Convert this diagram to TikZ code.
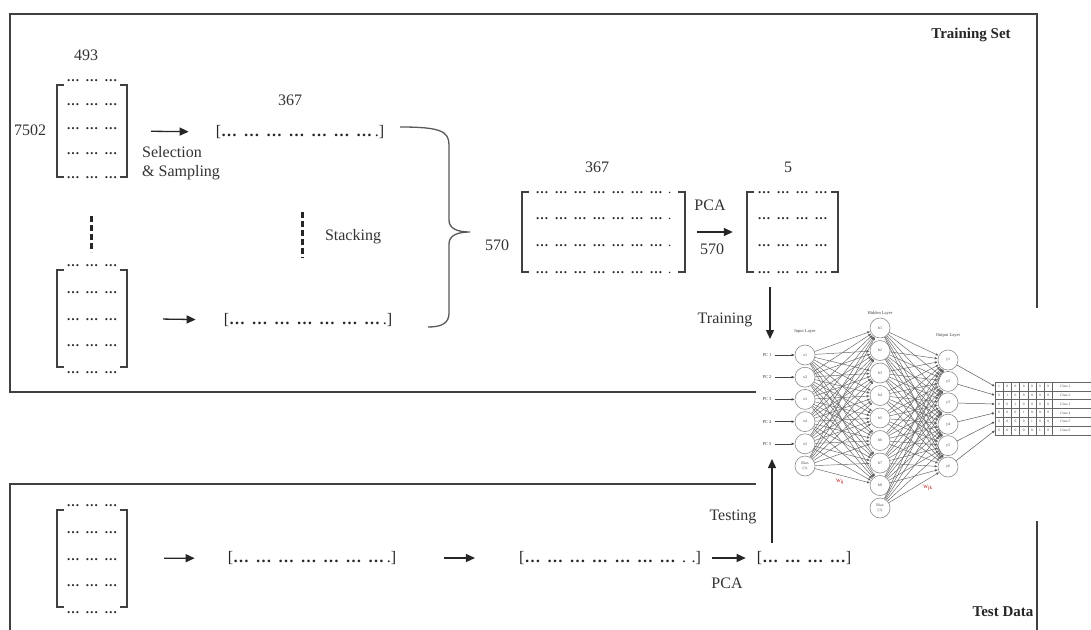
\documentclass[tikz,border=0pt]{standalone}
\usepackage{fontspec}
\setmainfont{Liberation Serif}
\usetikzlibrary{arrows.meta}
\newcommand{\dd}{{\bfseries …}}
\newcommand{\dg}{\dd\hspace{6pt}}
\newcommand{\vg}{\dd\hspace{6.5pt}}
\newcommand{\matbrk}[1]{%
  \draw[brk] ([xshift=7pt]#1.north west) -- (#1.north west) -- (#1.south west) -- ([xshift=7pt]#1.south west);
  \draw[brk] ([xshift=-7pt]#1.north east) -- (#1.north east) -- (#1.south east) -- ([xshift=-7pt]#1.south east);}
\begin{document}
\begin{tikzpicture}[x=1pt,y=-1pt,
  lbl/.style={font=\fontsize{16}{19}\selectfont, text=black!80, inner sep=0pt},
  bold/.style={font=\fontsize{15}{18}\selectfont\bfseries, text=black!85, inner sep=0pt},
  dotrow/.style={font=\fontsize{13}{15}\selectfont, inner sep=0pt, anchor=base, text=black!85},
  vec/.style={font=\fontsize{16}{19}\selectfont, inner sep=0pt, text=black!85},
  matbox/.style={inner sep=0pt, draw=none},
  brk/.style={line width=1.5pt, black!75},
  frame/.style={line width=2pt, black!75},
  arr/.style={-{Triangle[length=9pt,width=8pt]}, line width=1.3pt, black!85},
  dash3/.style={line width=3pt, black!85, dash pattern=on 6pt off 3pt},
  brace/.style={line width=1.3pt, black!65},
  neu/.style={circle, draw=black!45, line width=0.6pt, fill=white, minimum size=20pt, inner sep=0pt, font=\fontsize{4}{5}\selectfont, text=black!70, align=center},
  tiny/.style={font=\fontsize{4.5}{5.5}\selectfont, text=black!75, inner sep=0pt},
  conn/.style={black!62, line width=0.45pt, -{Latex[length=3pt,width=2.5pt]}},
  wlbl/.style={font=\fontsize{5}{6}\selectfont, text=red!70!black, inner sep=0pt}
]
\useasboundingbox (0,0) rectangle (1091,629);
\clip (0,0) rectangle (1091,629);
\fill[white] (0,0) rectangle (1091,629);

% frames
\draw[frame] (10,14) rectangle (1037,392);
\draw[frame] (10,484) rectangle (1037,650);

% ---------- training set ----------
\node[bold] (ts) at (971,35) {Training Set};
\node[lbl] (n493) at (86,55) {493};
\node[lbl] (n7502) at (30,130) {7502};
\node[matbox, minimum width=70pt, minimum height=92pt] (m1) at (92,131) {};
\matbrk{m1}
\foreach \y in {80,104,128,153,177} \node[dotrow] (m1r\y) at (92,\y+1) {\dg\dg\dd};

\node[lbl, align=left, anchor=north west] (sel) at (142,146) {Selection\\\& Sampling};
\node[lbl] (n367a) at (290,100) {367};
\node[vec] (v1) at (300,132) {[\vg\vg\vg\vg\vg\vg\dd\,.]};
\draw[arr, shorten <=24pt, shorten >=27pt] (m1.east) -- (v1.west);

\draw[dash3] (91,216) -- (91,252);
\draw[dash3] (302,212) -- (302,258);
\node[lbl] (stk) at (353,237) {Stacking};

\node[matbox, minimum width=70pt, minimum height=97pt] (m2) at (92,318.5) {};
\matbrk{m2}
\foreach \y in {265,292,319,345,372} \node[dotrow] (m2r\y) at (92,\y+1) {\dg\dg\dd};
\node[vec] (v2) at (308,320) {[\vg\vg\vg\vg\vg\vg\dd\,.]};
\draw[arr, shorten <=36pt, shorten >=28pt] (m2.east) -- (v2.west);

% brace
\draw[brace] (400,127) .. controls (440,127) and (449,131) .. (449,145) -- (449,220)
  .. controls (449,229) and (458,232) .. (470,232)
  .. controls (458,232) and (449,235) .. (449,244) -- (449,313)
  .. controls (449,323) and (442,327) .. (428,327);

\node[lbl] (n367b) at (597,167) {367};
\node[lbl] (n570a) at (497,245) {570};
\node[matbox, minimum width=163pt, minimum height=80pt] (m3) at (603.5,232) {};
\matbrk{m3}
\foreach \y in {192,218,245,272} \node[dotrow] (m3r\y) at (603.5,\y+1) {\dg\dg\dg\dg\dg\dg\dd\, .};

\node[lbl] (pca1) at (710,205) {PCA};
\node[lbl] (n570b) at (712,249) {570};
\node[lbl] (n5) at (788,167) {5};
\node[matbox, minimum width=91pt, minimum height=80pt] (m4) at (792.5,232) {};
\matbrk{m4}
\foreach \y in {192,218,245,272} \node[dotrow] (m4r\y) at (792.5,\y+1) {\dg\dg\dg\dd};
\draw[arr, shorten <=12pt, shorten >=14pt] (m3.east) -- (m4.west);

% ---------- test data ----------
\node[bold] (td) at (1003,612) {Test Data};
\node[matbox, minimum width=70pt, minimum height=97pt] (m5) at (92,558.5) {};
\matbrk{m5}
\foreach \y in {505,532,559,585,612} \node[dotrow] (m5r\y) at (92,\y+1) {\dg\dg\dd};
\node[vec] (v5) at (312,558) {[\vg\vg\vg\vg\vg\vg\dd\,.]};
\draw[arr, shorten <=37pt, shorten >=33pt] (m5.east) -- (v5.west);
\node[vec] (v6) at (610,558) {[\vg\vg\vg\vg\vg\vg\dd\, . .]};
\draw[arr, shorten <=48pt, shorten >=44pt] (v5.east) -- (v6.west);
\node[vec] (v7) at (804,558) {[\vg\vg\vg\dd]};
\draw[arr, shorten <=11pt, shorten >=11pt] (v6.east) -- (v7.west);
\node[lbl] (pca2) at (727,583) {PCA};

% ---------- neural network ----------
\fill[white] (756,308) rectangle (1091,521);

\node[lbl] (trn) at (725,320) {Training};
\coordinate (trs) at (770,287);
\coordinate (tre) at (770,339);
\draw[arr] (trs) -- (tre);

\node[lbl] (tst) at (733,517) {Testing};
\coordinate (tss) at (772,543);
\coordinate (tse) at (772,459);
\draw[arr] (tss) -- (tse);

\node[tiny] (ilt) at (805,332) {Input Layer};
\node[tiny] (hlt) at (880,313) {Hidden Layer};
\node[tiny] (olt) at (948,335) {Output Layer};

\foreach \i in {1,...,5} {
  \node[neu] (in\i) at (805,{355+22.2*(\i-1)}) {x\i};
  \node[tiny] (pc\i) at (767,{355+22.2*(\i-1)}) {PC \i};
  \draw[black!75, line width=0.5pt, -{Latex[length=3pt,width=2.5pt]}] (pc\i.east) ++(3pt,0) -- (in\i.west);
}
\node[neu] (inb) at (805,466) {Bias\\(1)};
\foreach \j in {1,...,8} \node[neu] (h\j) at (880,{328+22.5*(\j-1)}) {h\j};
\node[neu] (hb) at (880,508) {Bias\\(1)};
\foreach \k in {1,...,6} \node[neu] (o\k) at (948,{360+21.4*(\k-1)}) {y\k};

\foreach \i in {1,2,3,4,5,b}
  \foreach \j in {1,...,8}
    \draw[conn] (in\i) -- (h\j);
\foreach \j in {1,2,3,4,5,6,7,8,b}
  \foreach \k in {1,...,6}
    \draw[conn] (h\j) -- (o\k);

\node[wlbl] (w1) at (840,482) {W\textsubscript{ij}};
\node[wlbl] (w2) at (928,488) {W\textsubscript{jk}};

% output table
\foreach \r in {0,...,6} \draw[black!60, line width=0.45pt] (995,{382+8.8*\r}) -- (1091,{382+8.8*\r});
\foreach \c in {0,...,7} \draw[black!60, line width=0.45pt] ({995+8.2*\c},382) -- ({995+8.2*\c},{382+8.8*6});
\foreach \r in {1,...,6} {
  \foreach \c in {1,...,7} {
    \pgfmathtruncatemacro{\v}{\r==\c ? 1 : 0}
    \node[font=\fontsize{3.5}{4}\selectfont, text=black!70, inner sep=0pt] (c\r\c) at ({995+8.2*(\c-0.5)},{382+8.8*(\r-0.5)}) {\v};
  }
  \node[font=\fontsize{3.5}{4}\selectfont, text=black!70, inner sep=0pt, anchor=west] (lab\r) at (1060,{382+8.8*(\r-0.5)}) {Class \r};
  \coordinate (t\r) at (995,{382+8.8*(\r-0.5)});
  \draw[black!65, line width=0.5pt, -{Latex[length=3pt,width=2.5pt]}] (o\r) -- (t\r);
}
\end{tikzpicture}
\end{document}
